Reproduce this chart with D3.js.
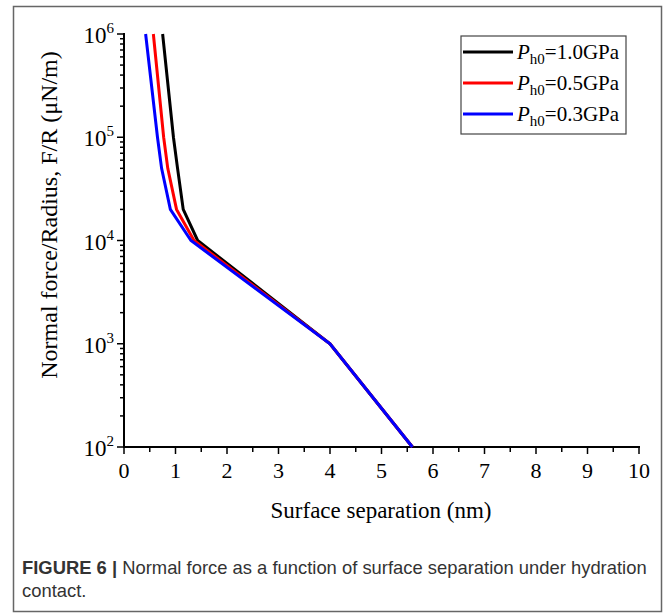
<!DOCTYPE html>
<html>
<head>
<meta charset="utf-8">
<script src="https://cdn.jsdelivr.net/npm/d3@7"></script>
<style>
  body { margin: 0; background: #fff; }
  text { font-family: "Liberation Serif", "Times New Roman", serif; }
  .caption { font-family: "Liberation Sans", Arial, sans-serif; }
</style>
</head>
<body>
<div id="chart"></div>
<script>
// values
var force = [1e6, 1e5, 5e4, 2e4, 1e4, 1e3, 1e2];
var sep10 = [0.75, 0.96, 1.04, 1.15, 1.43, 4.0, 5.6];
var sep05 = [0.57, 0.77, 0.85, 1.02, 1.36, 4.0, 5.6];
var sep03 = [0.42, 0.65, 0.73, 0.90, 1.30, 4.0, 5.6];
var seriesNames = ["1.0GPa", "0.5GPa", "0.3GPa"];
var seriesColors = ["#000000", "#ff0000", "#0000ff"];
var xTicks = [0, 1, 2, 3, 4, 5, 6, 7, 8, 9, 10];
var yTicks = [1e2, 1e3, 1e4, 1e5, 1e6];

var W = 669, H = 615;

var svg = d3.select("#chart")
    .append("svg")
        .attr("width", W)
        .attr("height", H);

// outer frame
svg.append("rect")
    .attr("x", 13.5)
    .attr("y", 6.5)
    .attr("width", 648)
    .attr("height", 605)
    .attr("fill", "#fff")
    .attr("stroke", "#666")
    .attr("stroke-width", 1.5);

var x = d3.scaleLinear().domain([0, 10]).range([124, 639]);
var y = d3.scaleLog().domain([1e2, 1e6]).range([447, 34]);

// x axis
var xAxis = svg.append("g").attr("transform", "translate(0,447)");
xAxis.append("line")
    .attr("x1", x(0) - 1).attr("x2", x(10) + 1)
    .attr("stroke", "#000").attr("stroke-width", 2);
xAxis.selectAll(".minor")
    .data(d3.range(0.5, 10, 1))
    .join("line")
    .attr("x1", d => x(d)).attr("x2", d => x(d))
    .attr("y1", 0).attr("y2", 5)
    .attr("stroke", "#000").attr("stroke-width", 1.5);
xAxis.selectAll(".major")
    .data(xTicks)
    .join("line")
    .attr("x1", d => x(d)).attr("x2", d => x(d))
    .attr("y1", 0).attr("y2", 7)
    .attr("stroke", "#000").attr("stroke-width", 1.5);
xAxis.selectAll(".lab")
    .data(xTicks)
    .join("text")
    .attr("x", d => x(d))
    .attr("y", 31)
    .attr("text-anchor", "middle")
    .attr("font-size", 22)
    .text(d => d);

// y axis
var yAxis = svg.append("g");
yAxis.append("line")
    .attr("x1", 124).attr("x2", 124)
    .attr("y1", y(1e2) + 1).attr("y2", y(1e6) - 1)
    .attr("stroke", "#000").attr("stroke-width", 2);
var minors = [];
yTicks.slice(0, -1).forEach(function(d) {
  for (var k = 2; k <= 9; k++) minors.push(d * k);
});
yAxis.selectAll(".minor")
    .data(minors)
    .join("line")
    .attr("x1", 124).attr("x2", 120)
    .attr("y1", d => y(d)).attr("y2", d => y(d))
    .attr("stroke", "#000").attr("stroke-width", 1.5);
yAxis.selectAll(".major")
    .data(yTicks)
    .join("line")
    .attr("x1", 124).attr("x2", 117)
    .attr("y1", d => y(d)).attr("y2", d => y(d))
    .attr("stroke", "#000").attr("stroke-width", 1.5);
var ylab = yAxis.selectAll(".lab")
    .data(yTicks)
    .join("text")
    .attr("x", 114)
    .attr("y", d => y(d) + 9)
    .attr("text-anchor", "end")
    .attr("font-size", 23);
ylab.append("tspan").text("10");
ylab.append("tspan")
    .attr("dy", -10)
    .attr("font-size", 15)
    .text(d => Math.round(Math.log10(d)));

// axis titles
svg.append("text")
    .attr("x", 381)
    .attr("y", 518)
    .attr("text-anchor", "middle")
    .attr("font-size", 23)
    .text("Surface separation (nm)");

svg.append("text")
    .attr("transform", "translate(57,215) rotate(-90)")
    .attr("text-anchor", "middle")
    .attr("font-size", 24)
    .text("Normal force/Radius, F/R (\u03BCN/m)");

// curves
var line = d3.line()
    .x(d => x(d[0]))
    .y(d => y(d[1]));

[sep10, sep05, sep03].forEach(function(s, i) {
  svg.append("path")
      .datum(s.map((v, j) => [v, force[j]]))
      .attr("fill", "none")
      .attr("stroke", seriesColors[i])
      .attr("stroke-width", 3)
      .attr("stroke-linejoin", "miter")
      .attr("d", line);
});

// legend
var legend = svg.append("g");
legend.append("rect")
    .attr("x", 461).attr("y", 36)
    .attr("width", 165).attr("height", 98)
    .attr("fill", "#fff")
    .attr("stroke", "#444").attr("stroke-width", 1.2);
seriesNames.forEach(function(name, i) {
  var ly = 52 + i * 31;
  legend.append("line")
      .attr("x1", 463).attr("x2", 513)
      .attr("y1", ly).attr("y2", ly)
      .attr("stroke", seriesColors[i]).attr("stroke-width", 3);
  var t = legend.append("text")
      .attr("x", 517)
      .attr("y", ly + 7)
      .attr("font-size", 21);
  t.append("tspan").attr("font-style", "italic").text("P");
  t.append("tspan").attr("dy", 5).attr("font-size", 15).text("h0");
  t.append("tspan").attr("dy", -5).text("=" + name);
});

// caption
var cap = svg.append("text")
    .attr("class", "caption")
    .attr("x", 22)
    .attr("y", 574)
    .attr("font-size", 18.4)
    .attr("fill", "#333");
cap.append("tspan").attr("font-weight", "bold").text("FIGURE 6 | ");
cap.append("tspan").text("Normal force as a function of surface separation under hydration");
svg.append("text")
    .attr("class", "caption")
    .attr("x", 22)
    .attr("y", 597)
    .attr("font-size", 18.4)
    .attr("fill", "#333")
    .text("contact.");
</script>
</body>
</html>
